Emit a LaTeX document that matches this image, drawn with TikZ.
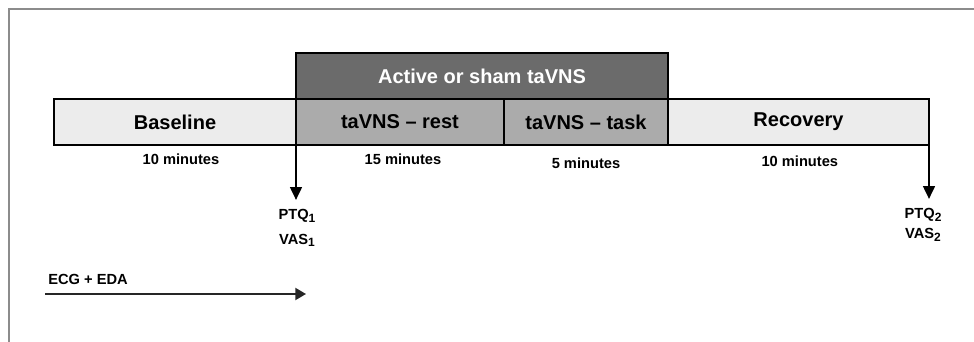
\documentclass[tikz,border=0pt]{standalone}
\usepackage{fontspec}
\setmainfont{Liberation Sans}
\usetikzlibrary{positioning,arrows.meta}

\definecolor{framegray}{RGB}{140,140,140}
\definecolor{stimgray}{RGB}{107,107,107}
\definecolor{phasegray}{RGB}{171,171,171}
\definecolor{quietgray}{RGB}{236,236,236}

\newcommand\visit[1]{\raisebox{-2pt}{\fontsize{9}{9}\selectfont #1}}

\tikzset{
  phase/.style={draw, line width=1.5pt, minimum height=34.5pt, inner sep=0pt, outer sep=0pt,
    font=\bfseries\fontsize{15}{18}\selectfont},
  dur/.style={font=\bfseries\fontsize{11}{13}\selectfont, inner sep=0pt},
  meas/.style={font=\bfseries\fontsize{11}{13}\selectfont, inner sep=0pt},
  marker/.style={-{Triangle[length=9.5pt,width=9pt]}, line width=0.8pt},
}

\begin{document}
\begin{tikzpicture}[x=0.75pt,y=-0.75pt]
    \useasboundingbox (0,0) rectangle (974,342);
    \draw[framegray, line width=1.5pt] (9,342) -- (9,9) -- (974,9);
    % phases
    \node[phase, fill=quietgray, minimum width=181.5pt, anchor=north west] (base) at (54,99) {Baseline};
    \node[phase, fill=phasegray, minimum width=156pt, right=0pt of base] (rest) {taVNS -- rest};
    \node[phase, fill=phasegray, minimum width=123pt, right=0pt of rest] (task) {taVNS -- task};
    \node[phase, fill=quietgray, minimum width=195.75pt, right=0pt of task] (rec) {Recovery};
    \node[phase, fill=stimgray, text=white, minimum width=279pt, anchor=south west] (stim) at (rest.north west) {Active or sham taVNS};
    % durations
    \node[dur] (dbase) at ([xshift=4.5pt,yshift=-10.5pt]base.south) {10 minutes};
    \node[dur] (drest) at ([xshift=2.25pt,yshift=-10.5pt]rest.south) {15 minutes};
    \node[dur] (dtask) at ([yshift=-13.5pt]task.south) {5 minutes};
    \node[dur] (drec) at ([xshift=1pt,yshift=-12pt]rec.south) {10 minutes};
    % questionnaires
    \node[meas] (ptq1) at (297,216) {PTQ\visit{1}};
    \node[meas, below=8pt of ptq1] (vas1) {VAS\visit{1}};
    \node[meas] (ptq2) at (923,215) {PTQ\visit{2}};
    \node[meas, below=4.5pt of ptq2] (vas2) {VAS\visit{2}};
    \draw[marker, shorten >=7pt] (base.south east) -- (base.south east |- ptq1.north);
    \draw[marker, shorten >=7pt] (rec.south east) -- (rec.south east |- ptq2.north);
    % recording
    \coordinate (ecgstart) at (45,294);
    \coordinate (ecgend) at (306,294);
    \node[dur, anchor=west] (ecg) at (48,279) {ECG + EDA};
    \draw[-{Triangle[length=8pt,width=9pt]}, line width=1.5pt, black!85] (ecgstart) -- (ecgend);
\end{tikzpicture}
\end{document}
